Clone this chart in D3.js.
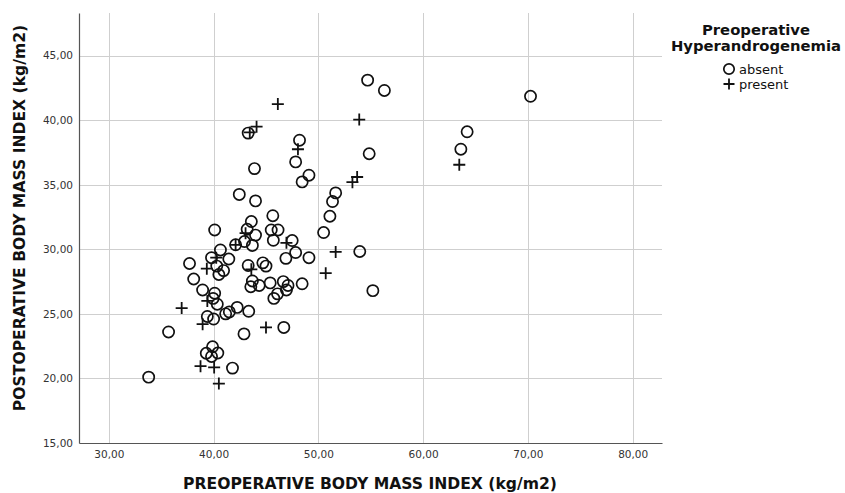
<!DOCTYPE html>
<html>
<head>
<meta charset="utf-8">
<script src="https://cdn.jsdelivr.net/npm/d3@7"></script>
<style>
    body { margin: 0; background: #fff; }
    svg { display: block; }
</style>
</head>
<body>
<svg id="chart" width="845" height="493"></svg>
<script>
// preoperative BMI (x), postoperative BMI (y)
let absentPre = [33.8, 35.7, 37.7, 38.1, 38.95, 39.4, 40.0, 40.1, 39.95, 40.35, 41.15, 41.5, 42.25, 43.35, 42.9, 46.7, 55.2,
    41.8, 39.9, 39.3, 39.8, 40.4, 39.8, 40.65, 40.3, 40.5, 40.95, 41.45, 43.3, 43.7, 43.55, 44.35, 44.7, 45.0, 45.4,
    45.75, 46.1, 46.65, 47.1, 46.95, 46.9, 47.83, 49.1, 48.45, 53.95, 40.1, 42.1, 42.95, 43.6, 44.0, 43.7, 43.2, 44.0,
    42.45, 45.65, 45.5, 46.15, 45.7, 47.5, 51.35, 51.1, 50.5, 51.65, 49.1, 48.45, 47.83, 48.2, 43.9, 43.3, 54.7, 56.3,
    54.85, 70.25, 64.2, 63.6];
let absentPost = [20.1, 23.6, 28.9, 27.7, 26.85, 24.8, 24.6, 26.6, 26.2, 25.75, 25.0, 25.15, 25.5, 25.2, 23.45, 23.95, 26.8,
    20.8, 22.45, 21.95, 21.7, 21.97, 29.35, 29.95, 28.7, 28.05, 28.35, 29.25, 28.75, 27.55, 27.1, 27.2, 28.95, 28.7, 27.4,
    26.2, 26.55, 27.5, 27.2, 26.85, 29.3, 29.75, 29.35, 27.33, 29.83, 31.5, 30.35, 30.6, 32.15, 31.1, 30.3, 31.55, 33.75,
    34.25, 32.6, 31.5, 31.5, 30.7, 30.68, 33.7, 32.56, 31.3, 34.37, 35.74, 35.22, 36.77, 38.45, 36.25, 39.0, 43.1, 42.3,
    37.4, 41.85, 39.1, 37.75];

let presentPre = [36.95, 38.95, 39.4, 39.35, 40.25, 38.75, 40.05, 40.5, 45.0, 50.7, 51.65, 43.6, 43.05, 42.1, 46.95,
    46.13, 53.9, 44.1, 43.45, 48.05, 53.7, 53.25, 63.45];
let presentPost = [25.45, 24.2, 26.0, 28.5, 29.35, 20.95, 20.85, 19.6, 23.95, 28.15, 29.8, 28.45, 31.25, 30.35, 30.5,
    41.25, 40.05, 39.5, 39.05, 37.75, 35.6, 35.2, 36.55];

let xTicks = [30, 40, 50, 60, 70, 80];
let yTicks = [15, 20, 25, 30, 35, 40, 45];
let groups = ["absent", "present"];

let fmt = v => d3.format(".2f")(v).replace(".", ",");

function render() {
    let svg = d3.select("#chart");
    let margin = { top: 13, left: 79, right: 183, bottom: 50 };
    let width = 845 - margin.left - margin.right;
    let height = 493 - margin.top - margin.bottom;

    let xScale = d3.scaleLinear().domain([27.15, 82.8]).range([0, width]);
    let yScale = d3.scaleLinear().domain([15, 48.3]).range([height, 0]);

    let g = svg.append("g")
        .attr("transform", "translate(" + margin.left + "," + margin.top + ")");

    // grid
    g.selectAll(".vgrid")
        .data(xTicks)
        .enter()
        .append("line")
        .attr("x1", d => Math.round(xScale(d)) + 0.5)
        .attr("x2", d => Math.round(xScale(d)) + 0.5)
        .attr("y1", 0)
        .attr("y2", height)
        .attr("stroke", "#cfcfcf");

    g.selectAll(".hgrid")
        .data(yTicks.slice(1))
        .enter()
        .append("line")
        .attr("x1", 0)
        .attr("x2", width)
        .attr("y1", d => Math.round(yScale(d)) + 0.5)
        .attr("y2", d => Math.round(yScale(d)) + 0.5)
        .attr("stroke", "#cfcfcf");

    // axes
    let xAxis = g.append("g")
        .attr("transform", "translate(0," + height + ")")
        .call(d3.axisBottom(xScale).tickValues(xTicks).tickFormat(fmt).tickSize(0).tickPadding(8));
    let yAxis = g.append("g")
        .call(d3.axisLeft(yScale).tickValues(yTicks).tickFormat(fmt).tickSize(0).tickPadding(6));

    [xAxis, yAxis].forEach(a => {
        a.select(".domain").attr("stroke", "#555").attr("stroke-width", 1.2);
        a.selectAll("text")
            .attr("font-family", "DejaVu Sans")
            .attr("font-size", "10.5px")
            .attr("fill", "#333");
    });

    // points
    g.selectAll(".absent")
        .data(d3.zip(absentPre, absentPost))
        .enter()
        .append("circle")
        .attr("cx", d => xScale(d[0]))
        .attr("cy", d => yScale(d[1]))
        .attr("r", 5.6)
        .attr("fill", "none")
        .attr("stroke", "#111")
        .attr("stroke-width", 1.7);

    g.selectAll(".present")
        .data(d3.zip(presentPre, presentPost))
        .enter()
        .append("path")
        .attr("transform", d => "translate(" + xScale(d[0]) + "," + yScale(d[1]) + ")")
        .attr("d", "M-6,0H6M0,-6V6")
        .attr("stroke", "#111")
        .attr("stroke-width", 1.8);

    // axis titles
    svg.append("text")
        .attr("x", 370)
        .attr("y", 489)
        .attr("text-anchor", "middle")
        .attr("font-family", "DejaVu Sans")
        .attr("font-weight", "bold")
        .attr("font-size", "15.6px")
        .attr("fill", "#111")
        .text("PREOPERATIVE BODY MASS INDEX (kg/m2)");

    svg.append("text")
        .attr("transform", "translate(25,218) rotate(-90)")
        .attr("text-anchor", "middle")
        .attr("font-family", "DejaVu Sans")
        .attr("font-weight", "bold")
        .attr("font-size", "15.6px")
        .attr("fill", "#111")
        .text("POSTOPERATIVE BODY MASS INDEX (kg/m2)");

    // legend
    let lg = svg.append("g").attr("font-family", "DejaVu Sans").attr("fill", "#111");
    lg.append("text")
        .attr("x", 756).attr("y", 35)
        .attr("text-anchor", "middle")
        .attr("font-weight", "bold").attr("font-size", "14.8px")
        .text("Preoperative");
    lg.append("text")
        .attr("x", 756).attr("y", 51)
        .attr("text-anchor", "middle")
        .attr("font-weight", "bold").attr("font-size", "14.8px")
        .text("Hyperandrogenemia");

    let item = lg.selectAll(".item")
        .data(groups)
        .enter()
        .append("g")
        .attr("transform", (d, i) => "translate(729," + (69 + i * 15) + ")");
    item.filter(d => d == "absent").append("circle")
        .attr("r", 5.2).attr("fill", "none").attr("stroke", "#111").attr("stroke-width", 1.7);
    item.filter(d => d == "present").append("path")
        .attr("d", "M-5.5,0H5.5M0,-5.5V5.5").attr("stroke", "#111").attr("stroke-width", 1.8);
    item.append("text")
        .attr("x", 10).attr("y", 4.5)
        .attr("font-size", "13px")
        .text(d => d);
}

render();
</script>
</body>
</html>
